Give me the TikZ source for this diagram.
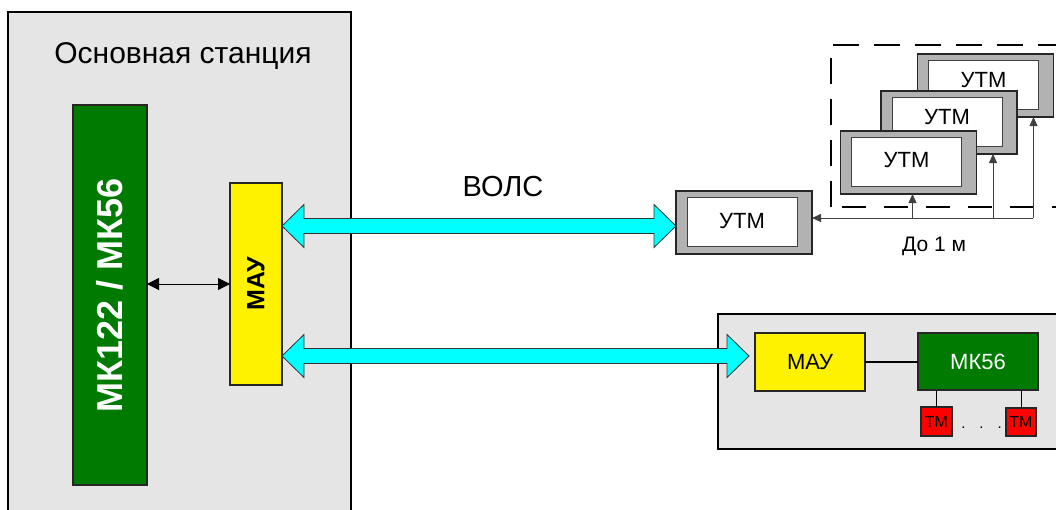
\documentclass[tikz,border=0pt]{standalone}
\usepackage{fontspec}
\setmainfont{Liberation Sans}
\usetikzlibrary{arrows.meta,calc}
\definecolor{bg}{RGB}{229,229,229}
\definecolor{grn}{RGB}{0,122,0}
\definecolor{utmgray}{RGB}{178,178,178}
\definecolor{cy}{RGB}{0,255,255}
\newcommand\fs[1]{\fontsize{#1}{#1}\selectfont}
\newcommand\utmbox[4]{%
  \node[utmo] (#1) at (#2,#3) {};
  \draw[utmi] ($(#1.north west)+(11,6)$) rectangle ($(#1.south east)+(-15,-8)$);
  \node[txt] (#1t) at ($(#1.center)+(-2,#4)$) {УТМ};
}
\newcommand\fatarrow[2]{%
  \filldraw[fat] (#1) -- ($(#1)+(22,-21.5)$) -- ($(#1)+(22,-7.5)$) -- ($(#2)+(-22,-7.5)$)
    -- ($(#2)+(-22,-21.5)$) -- (#2) -- ($(#2)+(-22,21.5)$) -- ($(#2)+(-22,7.5)$)
    -- ($(#1)+(22,7.5)$) -- ($(#1)+(22,21.5)$) -- cycle;
}
\begin{document}
\begin{tikzpicture}[x=1pt,y=-1pt,
  box/.style={draw=black!85, line width=1.2pt, inner sep=0pt, outer sep=0pt, anchor=center},
  utmo/.style={box, fill=utmgray, minimum width=136pt, minimum height=63pt},
  utmi/.style={draw=black!75, line width=0.9pt, fill=white},
  txt/.style={font=\fs{22}, inner sep=0pt},
  fat/.style={fill=cy, draw=black!80, line width=0.8pt, line join=miter},
  conn/.style={draw=black!75, line width=0.8pt, -{Triangle[length=9pt,width=8pt]}},
  frame/.style={line width=1.5pt, draw=black}
]
\useasboundingbox (0,0) rectangle (1056,509);

% main station
\fill[bg] (8,12) rectangle (351,512);
\draw[frame] (8,512) -- (8,12) -- (351,12) -- (351,512);
\node[inner sep=0pt, font=\fs{30}] (title) at (183,56) {Основная станция};

\node[box, fill=grn, minimum width=74pt, minimum height=380pt] (mk) at (110,295) {};
\node[rotate=90, text=white, font=\bfseries\fs{36}, inner sep=0pt] (mkt) at (mk.center) {МК122 / МК56};
\node[box, fill=yellow, minimum width=52pt, minimum height=202pt] (mau) at (256,284) {};
\node[rotate=90, font=\bfseries\fs{25}, inner sep=0pt] (maut) at (mau.center) {МАУ};

\draw[line width=1pt, {Triangle[length=12pt,width=12pt]}-{Triangle[length=12pt,width=12pt]}]
  (mau.west -| mk.east) -- (mau.west);

% VOLS
\node[inner sep=0pt, font=\fs{29}] (vols) at (503,187) {ВОЛС};

% dashed frame
\draw[line width=2.5pt, dash pattern=on 26pt off 15pt] (831,207) -- (831,45) -- (1058,45);
\draw[line width=2.5pt, dash pattern=on 24pt off 18pt] (842,207) -- (1058,207);

% UTM boxes
\utmbox{b1}{985.5}{85.5}{-5}
\utmbox{b2}{949}{122.5}{-5}
\utmbox{b3}{908.5}{162.5}{-2}
\utmbox{u0}{744}{222.5}{-1}

\coordinate (bus) at (1033,218);
\coordinate (t1) at ($(b1.south east)+(-20,0)$);
\coordinate (t2) at ($(b2.south east)+(-24,0)$);
\coordinate (t3) at ($(b3.south)+(4,0)$);
\draw[conn] (bus) -- (bus -| u0.east);
\draw[conn] (t1 |- bus) -- (t1);
\draw[conn] (t2 |- bus) -- (t2);
\draw[conn] (t3 |- bus) -- (t3);
\node[inner sep=0pt, font=\fs{21}] (len) at (934,246) {До 1 м};

% lower right station
\fill[bg] (718,314) rectangle (1060,449);
\draw[frame] (1060,314) -- (718,314) -- (718,449) -- (1060,449);
\node[box, fill=yellow, minimum width=110pt, minimum height=58pt] (mau2) at (810,362) {};
\node[txt] at (mau2.center) {МАУ};
\node[box, fill=grn, minimum width=120pt, minimum height=57pt] (mk2) at (978,361.5) {};
\node[txt, text=white] at (mk2.center) {МК56};
\draw[line width=1.2pt] (mau2.east) -- (mau2.east -| mk2.west);
\node[box, fill=red, minimum width=31pt, minimum height=29pt] (tm1) at (936.5,421.5) {};
\node[font=\fs{16}, inner sep=0pt] at (tm1.center) {ТМ};
\node[box, fill=red, minimum width=30pt, minimum height=28pt] (tm2) at (1021,422) {};
\node[font=\fs{16}, inner sep=0pt] at (tm2.center) {ТМ};
\draw[line width=1pt] (tm1.north) -- (tm1.north |- mk2.south);
\draw[line width=1pt] (tm2.north) -- (tm2.north |- mk2.south);
\node[font=\fs{15}, inner sep=0pt, anchor=base] (dots) at (981.5,428) {.\hspace{14pt}.\hspace{14pt}.};

% fibre links
\coordinate (w1) at (0,226);
\coordinate (w2) at (0,356);
\coordinate (a1) at (mau.east |- w1);
\coordinate (b1e) at (u0.west |- w1);
\coordinate (a2) at (mau.east |- w2);
\coordinate (b2e) at ($(mau2.west |- w2)+(-6,0)$);
\fatarrow{a1}{b1e}
\fatarrow{a2}{b2e}
\end{tikzpicture}
\end{document}
